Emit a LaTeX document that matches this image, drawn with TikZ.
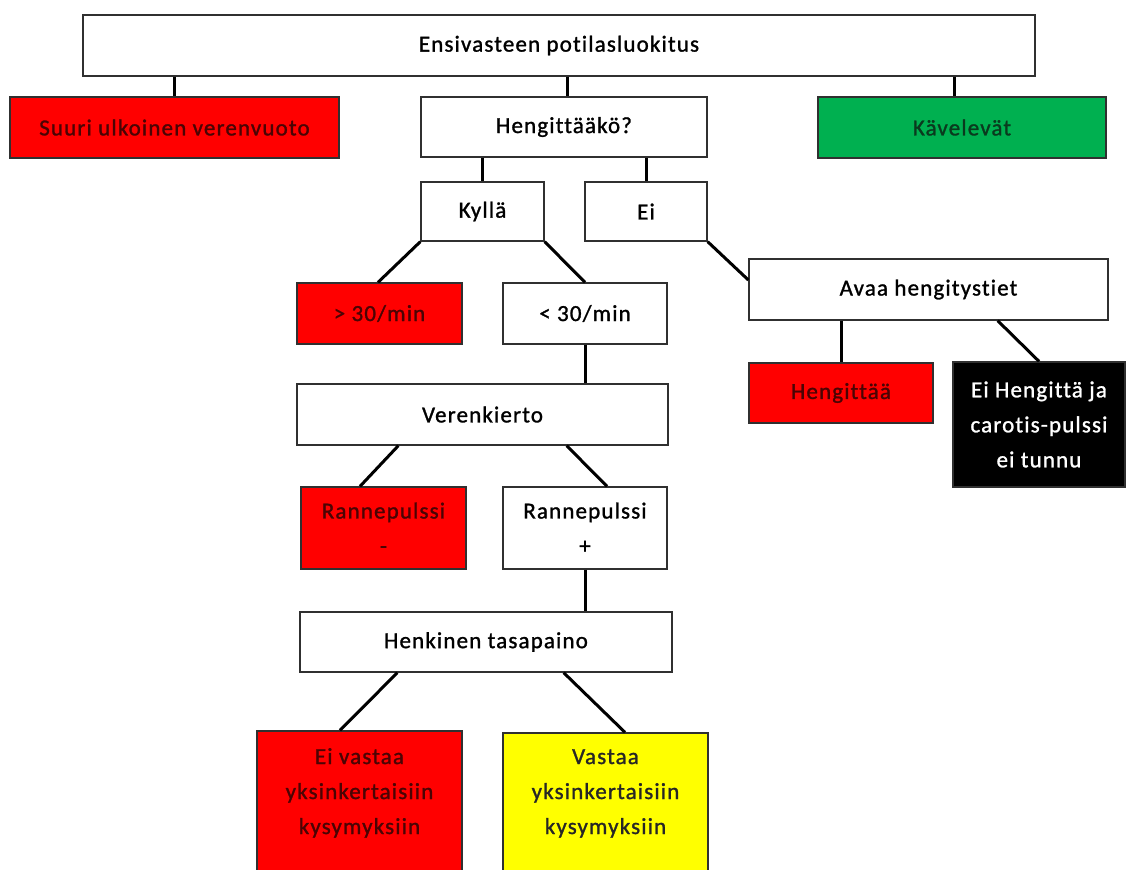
\documentclass[tikz,border=0pt]{standalone}
\usepackage{fontspec}
\setmainfont[LetterSpace=5,FakeBold=1.2,Ligatures=NoCommon]{Carlito}
\definecolor{boxline}{HTML}{303030}
\definecolor{alertred}{HTML}{FF0000}
\definecolor{alerttext}{HTML}{4A0404}
\definecolor{walkgreen}{HTML}{00B050}
\definecolor{walktext}{HTML}{0A3A1E}
\definecolor{delayyellow}{HTML}{FFFF00}
\definecolor{delaytext}{HTML}{262626}
\begin{document}
\begin{tikzpicture}[x=1pt,y=-1pt,
  box/.style={draw=boxline, line width=1.3pt, fill=white, align=center,
    inner sep=0pt, font=\fontsize{23}{35}\selectfont, text=black},
  redbox/.style={box, fill=alertred, text=alerttext},
  greenbox/.style={box, fill=walkgreen, text=walktext},
  yellowbox/.style={box, fill=delayyellow, text=delaytext},
  blackbox/.style={box, fill=black, text=white},
  link/.style={line width=3pt, draw=black}]
\useasboundingbox (0,0) rectangle (1127,870);

% level 1
\node[box, minimum width=952, minimum height=61] (top) at (559,45.5) {Ensivasteen potilasluokitus};
% level 2
\node[redbox, minimum width=329, minimum height=61] (suuri) at (174.5,127.5) {Suuri ulkoinen verenvuoto};
\node[box, minimum width=286, minimum height=60] (heng) at (564,127) {Hengittääkö?};
\node[greenbox, minimum width=288, minimum height=61] (kav) at (962,127.5) {Kävelevät};
% breathing answers
\node[box, minimum width=123, minimum height=59] (kylla) at (482.5,211.5) {Kyllä};
\node[box, minimum width=122, minimum height=59] (ei) at (646,211.5) {Ei};
% respiratory rate
\node[redbox, minimum width=165, minimum height=61] (gt30) at (379.5,313.5) {> 30/min};
\node[box, minimum width=164, minimum height=61] (lt30) at (585,313.5) {< 30/min};
% circulation
\node[box, minimum width=371, minimum height=61] (veren) at (482.5,414.5) {Verenkierto};
\node[redbox, minimum width=165, minimum height=82] (rpm) at (383.5,528) {Rannepulssi\\-};
\node[box, minimum width=164, minimum height=82] (rpp) at (585,528) {Rannepulssi\\+};
% mental status
\node[box, minimum width=372, minimum height=60] (henk) at (486,642) {Henkinen tasapaino};
\node[redbox, minimum width=205, minimum height=149] (eiv) at (359.5,805.5)
  {\raisebox{13.5pt}[\height][\depth]{\begin{tabular}{@{}c@{}}Ei vastaa\\yksinkertaisiin\\kysymyksiin\end{tabular}}};
\node[yellowbox, minimum width=205, minimum height=147] (vas) at (605.5,806.5)
  {\raisebox{14.5pt}[\height][\depth]{\begin{tabular}{@{}c@{}}Vastaa\\yksinkertaisiin\\kysymyksiin\end{tabular}}};
% airway branch
\node[box, minimum width=359, minimum height=61] (avaa) at (928.5,289.5) {Avaa hengitystiet};
\node[redbox, minimum width=184, minimum height=60] (hengittaa) at (841,393) {Hengittää};
\node[blackbox, minimum width=172, minimum height=125] (musta) at (1039,424.5) {Ei Hengittä ja\\carotis-pulssi\\ei tunnu};

% connectors
\draw[link] (suuri.north |- top.south) -- (suuri.north);
\draw[link] ([xshift=3pt]heng.north |- top.south) -- ([xshift=3pt]heng.north);
\draw[link] ([xshift=-8pt]kav.north |- top.south) -- ([xshift=-8pt]kav.north);
\draw[link] (kylla.north |- heng.south) -- (kylla.north);
\draw[link] (ei.north |- heng.south) -- (ei.north);
\draw[link] (kylla.south west) -- ([xshift=-1.5pt]gt30.north);
\draw[link] (kylla.south east) -- (lt30.north);
\draw[link] (ei.south east) -- ([yshift=9.5pt]avaa.west);
\draw[link] (lt30.south) -- (lt30.south |- veren.north);
\draw[link] ([xshift=102pt]veren.south west) -- ([xshift=-23.5pt]rpm.north);
\draw[link] ([xshift=-102pt]veren.south east) -- ([xshift=22pt]rpp.north);
\draw[link] (rpp.south) -- (rpp.south |- henk.north);
\draw[link] ([xshift=98pt]henk.south west) -- ([xshift=-19.5pt]eiv.north);
\draw[link] ([xshift=-109pt]henk.south east) -- ([xshift=19.5pt]vas.north);
\draw[link] (hengittaa.north |- avaa.south) -- (hengittaa.north);
\draw[link] ([xshift=-111pt]avaa.south east) -- (musta.north);
\end{tikzpicture}
\end{document}
